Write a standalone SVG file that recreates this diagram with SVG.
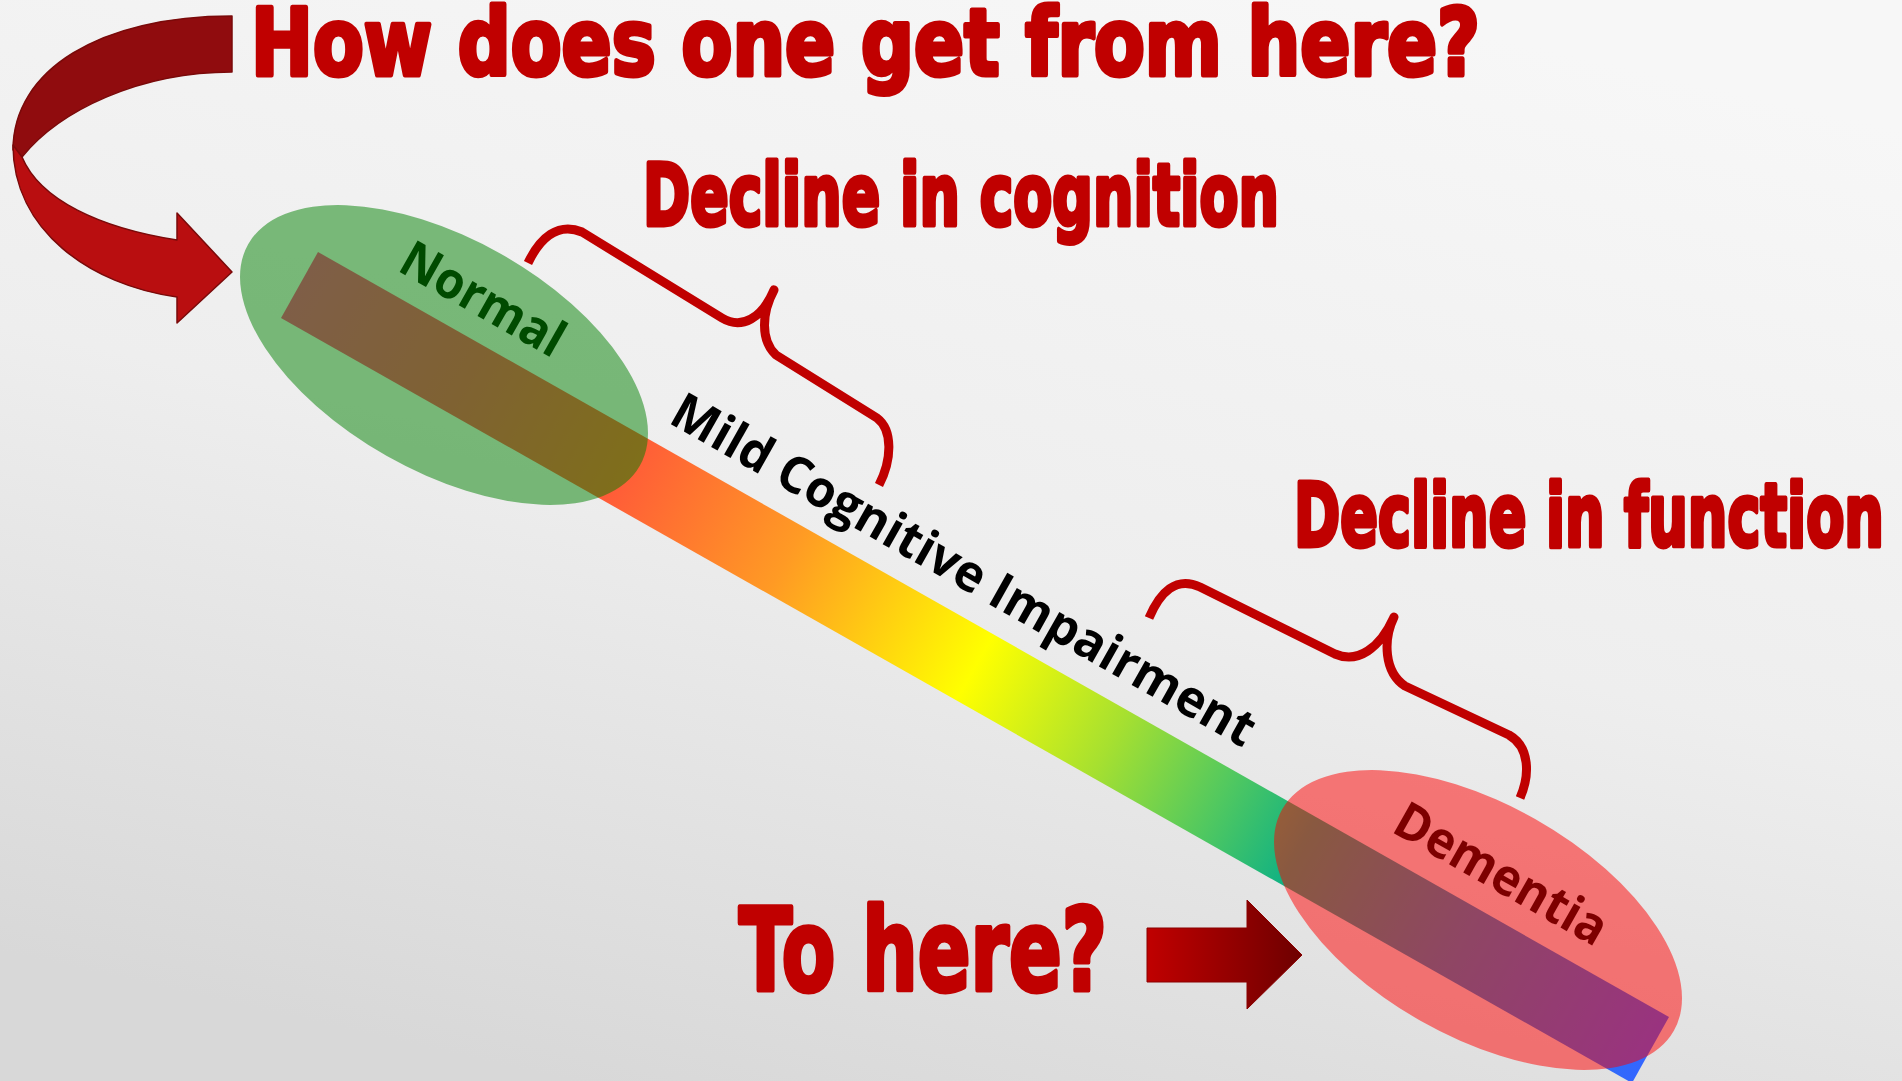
<svg xmlns="http://www.w3.org/2000/svg" width="1902" height="1081" viewBox="0 0 1902 1081">
  <defs>
    <linearGradient id="bg" x1="0.7" y1="0" x2="0.3" y2="1">
      <stop offset="0" stop-color="#f7f7f7"/>
      <stop offset="0.5" stop-color="#eeeeee"/>
      <stop offset="1" stop-color="#d8d8d8"/>
    </linearGradient>
    <linearGradient id="spectrum" gradientUnits="userSpaceOnUse" x1="318" y1="252" x2="1669" y2="1017">
      <stop offset="0" stop-color="#ff3d8f"/>
      <stop offset="0.12" stop-color="#ff4466"/>
      <stop offset="0.24" stop-color="#ff5c38"/>
      <stop offset="0.36" stop-color="#ff9a24"/>
      <stop offset="0.5" stop-color="#ffff00"/>
      <stop offset="0.6" stop-color="#a6e030"/>
      <stop offset="0.68" stop-color="#50c860"/>
      <stop offset="0.74" stop-color="#12b282"/>
      <stop offset="0.86" stop-color="#1e8cc8"/>
      <stop offset="1" stop-color="#3366ff"/>
    </linearGradient>
    <linearGradient id="arrowFill" gradientUnits="userSpaceOnUse" x1="1147" y1="0" x2="1302" y2="0">
      <stop offset="0" stop-color="#c00000"/>
      <stop offset="1" stop-color="#6e0000"/>
    </linearGradient>
    <style>
      .headline { font-family: "DejaVu Sans", "Liberation Sans", sans-serif; font-weight: 700; fill: #c00000; stroke: #c00000; stroke-width: 5; stroke-linejoin: round; }
      .stage { font-family: "Open Sans", Lato, "Liberation Sans", sans-serif; font-weight: 700; font-size: 51px; }
      .brace { fill: none; stroke: #c00000; stroke-width: 9; stroke-linecap: butt; stroke-linejoin: round; }
      .ribbon { stroke: #7a0a0a; stroke-width: 1.5; stroke-linejoin: round; }
    </style>
  </defs>

  <rect width="1902" height="1081" fill="url(#bg)"/>

  <!-- headings -->
  <g id="headings">
    <text class="headline" x="251" y="75" font-size="92" textLength="1229" lengthAdjust="spacingAndGlyphs">How does one get from here?</text>
    <text class="headline" x="643" y="225" font-size="86" textLength="636" lengthAdjust="spacingAndGlyphs">Decline in cognition</text>
    <text class="headline" x="1294" y="546" font-size="87" textLength="590" lengthAdjust="spacingAndGlyphs">Decline in function</text>
    <text class="headline" x="739" y="990" font-size="114" textLength="368" lengthAdjust="spacingAndGlyphs">To here?</text>
  </g>

  <!-- continuum bar -->
  <g id="node-continuum">
    <polygon points="318,252 1669,1017 1632,1083 281,318" fill="url(#spectrum)"/>
    <text class="stage" fill="#000000" transform="translate(667,422) rotate(29.5)" textLength="662" lengthAdjust="spacingAndGlyphs">Mild Cognitive Impairment</text>
  </g>

  <!-- stage: normal -->
  <g id="node-normal">
    <ellipse cx="444" cy="355" rx="225" ry="116" transform="rotate(29.5 444 355)" fill="#008000" fill-opacity="0.5"/>
    <text class="stage" fill="#004b00" transform="translate(396,270) rotate(29.5)" textLength="180" lengthAdjust="spacingAndGlyphs">Normal</text>
  </g>

  <!-- stage: dementia -->
  <g id="node-dementia">
    <ellipse cx="1478" cy="920" rx="225" ry="116" transform="rotate(29.5 1478 920)" fill="#ff0000" fill-opacity="0.5"/>
    <text class="stage" fill="#7d0000" transform="translate(1390,831) rotate(29.5)" textLength="236" lengthAdjust="spacingAndGlyphs">Dementia</text>
  </g>

  <!-- connectors: arrows and braces -->
  <g id="connectors">
    <!-- curved arrow: back of the ribbon -->
    <path class="ribbon" fill="#900c0e" d="M232,16 C100,16 13,70 13,150 L22,157 C60,110 140,72 232,72 Z"/>
    <!-- curved arrow: front of the ribbon with head -->
    <path class="ribbon" fill="#b90e10" d="M13,145 C13,230 90,285 177,297 L177,323 L232,272 L177,213 L177,240 C100,228 40,200 22,157 Z"/>
    <!-- straight arrow -->
    <path fill="url(#arrowFill)" stroke="#8a0000" stroke-width="1" d="M1147,928 L1247,928 L1247,900 L1302,955 L1247,1009 L1247,982 L1147,982 Z"/>
    <!-- brace over the cognition segment -->
    <path class="brace" d="M528,263 C540,238 558,222 582,232 L722,318 C742,330 762,318 774,290 C762,312 760,340 776,355 L877,418 C893,430 892,460 879,485"/>
    <!-- brace over the function segment -->
    <path class="brace" d="M1149,618 C1160,592 1176,576 1200,587 L1335,654 C1358,664 1380,648 1394,617 C1383,640 1384,672 1405,686 L1509,735 C1530,747 1530,775 1520,798"/>
  </g>
</svg>
